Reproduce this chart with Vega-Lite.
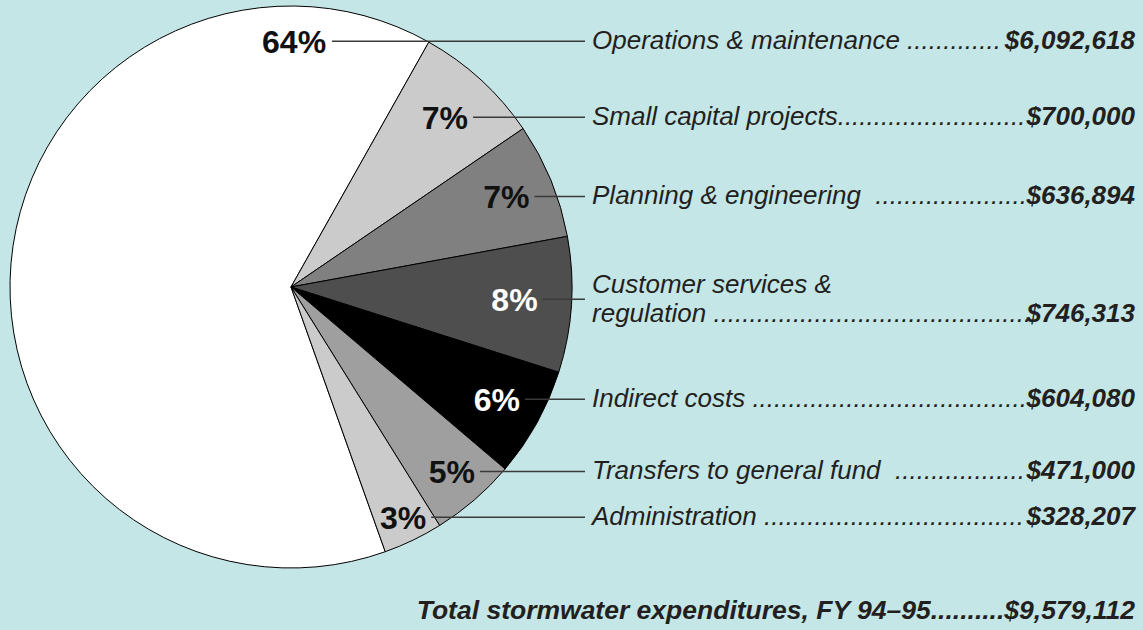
{
  "$schema": "https://vega.github.io/schema/vega-lite/v6.json",
  "width": 1143,
  "height": 630,
  "autosize": {"type": "fit", "contains": "padding"},
  "padding": 0,
  "background": "#c5e6e6",
  "config": {"view": {"stroke": null}},
  "data": {
    "values": [
      {"label": "Operations & maintenance .............", "value": 6092618},
      {"label": "Small capital projects..........................", "value": 700000},
      {"label": "Planning & engineering \u00a0.....................", "value": 636894},
      {"label": "Customer services &\nregulation ............................................", "value": 746313},
      {"label": "Indirect costs ......................................", "value": 604080},
      {"label": "Transfers to general fund \u00a0..................", "value": 471000},
      {"label": "Administration ....................................", "value": 328207}
    ]
  },
  "transform": [
    {"window": [{"op": "row_number", "as": "idx"}, {"op": "sum", "field": "value", "as": "cum"}], "frame": [null, 0]},
    {"joinaggregate": [{"op": "sum", "field": "value", "as": "total"}]},
    {"calculate": "datum.value / datum.total", "as": "share"},
    {"calculate": "datum.share > 0.5 ? 2.7995 + 2 * PI * datum.cum / datum.total - 0.5 : 2.7995 + 2 * PI * (datum.cum - datum.value / 2) / datum.total", "as": "ang"},
    {"calculate": "datum.share > 0.5 ? 0.868 : 1.012 - 2.76 * datum.share", "as": "r"},
    {"calculate": "datum.r * sin(datum.ang)", "as": "lx"},
    {"calculate": "datum.r * cos(datum.ang)", "as": "ly"},
    {"calculate": "datum.lx + (datum.share > 0.1 ? 0.135 : 0.1)", "as": "lx0"},
    {"calculate": "datum.ly + 0.007", "as": "lyl"},
    {"calculate": "datum.lyl + (indexof(datum.label, '\\n') >= 0 ? 0.05 : 0)", "as": "ty"},
    {"calculate": "format(datum.share, '.0%')", "as": "pct"},
    {"calculate": "(indexof(datum.label, '\\n') >= 0 ? '\\n' : '') + '$' + format(datum.value, ',')", "as": "amount"}
  ],
  "layer": [
    {
      "mark": {"type": "arc", "outerRadius": 281, "stroke": "#000000", "strokeWidth": 1},
      "encoding": {
        "x": {"datum": 0, "type": "quantitative", "scale": {"domain": [-1.03559, 3.03203], "nice": false, "zero": false}, "axis": null},
        "y": {"datum": 0, "type": "quantitative", "scale": {"domain": [-1.22064, 1.02135], "nice": false, "zero": false}, "axis": null},
        "theta": {"field": "value", "type": "quantitative", "stack": true, "scale": {"range": [2.7995, 9.0827]}},
        "order": {"field": "idx"},
        "color": {"field": "idx", "type": "ordinal", "legend": null, "scale": {"domain": [1, 2, 3, 4, 5, 6, 7], "range": ["#ffffff", "#cbcbcb", "#808080", "#4e4e4e", "#000000", "#9f9f9f", "#cbcbcb"]}}
      }
    },
    {
      "mark": {"type": "rule", "stroke": "#3a3a3a", "strokeWidth": 1.5},
      "encoding": {
        "x": {"field": "lx0", "type": "quantitative"},
        "x2": {"datum": 1.0463},
        "y": {"field": "lyl", "type": "quantitative"}
      }
    },
    {
      "mark": {"type": "text", "font": "Liberation Sans", "fontWeight": "bold", "fontSize": 32, "align": "center", "baseline": "middle"},
      "encoding": {
        "x": {"field": "lx", "type": "quantitative"},
        "y": {"field": "ly", "type": "quantitative"},
        "text": {"field": "pct"},
        "color": {"condition": {"test": "datum.idx == 4 || datum.idx == 5", "value": "#ffffff"}, "value": "#111111"}
      }
    },
    {
      "mark": {"type": "text", "font": "Liberation Sans", "fontStyle": "italic", "fontSize": 26, "align": "left", "baseline": "middle", "lineBreak": "\n", "lineHeight": 29, "color": "#231f20"},
      "encoding": {
        "x": {"datum": 1.0712},
        "y": {"field": "ty", "type": "quantitative"},
        "text": {"field": "label"}
      }
    },
    {
      "mark": {"type": "text", "font": "Liberation Sans", "fontStyle": "italic", "fontWeight": "bold", "fontSize": 26, "align": "right", "baseline": "middle", "lineBreak": "\n", "lineHeight": 29, "color": "#231f20"},
      "encoding": {
        "x": {"datum": 3.0036},
        "y": {"field": "ty", "type": "quantitative"},
        "text": {"field": "amount"}
      }
    },
    {
      "transform": [
        {"aggregate": [{"op": "sum", "field": "value", "as": "t"}]},
        {"calculate": "'Total stormwater expenditures, FY 94\u201395..........$' + format(datum.t, ',')", "as": "txt"}
      ],
      "mark": {"type": "text", "font": "Liberation Sans", "fontStyle": "italic", "fontWeight": "bold", "fontSize": 26.5, "align": "right", "baseline": "middle", "color": "#231f20"},
      "encoding": {
        "x": {"datum": 3.0036},
        "y": {"datum": -1.152},
        "text": {"field": "txt"}
      }
    }
  ]
}
